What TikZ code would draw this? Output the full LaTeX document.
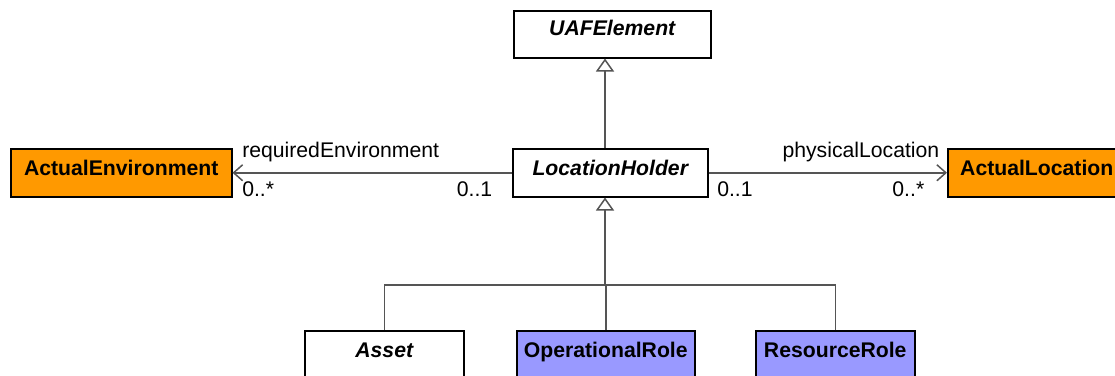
\documentclass[tikz,border=0pt]{standalone}
\usepackage{fontspec}
\setmainfont{Liberation Sans}
\usetikzlibrary{arrows.meta}

\definecolor{orangebox}{HTML}{FF9900}
\definecolor{purplebox}{HTML}{9999FF}
\definecolor{linegray}{HTML}{555555}

\begin{document}
\begin{tikzpicture}[x=1pt, y=-1pt,
    every node/.style={font=\fontsize{21.2}{26}\selectfont},
    class/.style={draw=black, line width=1.5pt, fill=white, anchor=north west,
        inner xsep=0pt, inner ysep=0pt, text height=27pt, text depth=21pt,
        font=\fontsize{21.2}{26}\selectfont\bfseries},
    abstract/.style={class, font=\fontsize{21.2}{26}\selectfont\bfseries\itshape},
    actual/.style={class, fill=orangebox},
    role/.style={class, fill=purplebox},
    gen/.style={draw=linegray, line width=1.5pt, -{Triangle[open, length=13pt, width=18pt, fill=white]}},
    assoc/.style={draw=linegray, line width=1.5pt, -{Straight Barb[length=9pt, width=16pt]}},
    lbl/.style={inner sep=0pt}]
    \useasboundingbox (0,0) rectangle (1115,375);
    \clip (0,0) rectangle (1115,375);
    \node[abstract, minimum width=197pt, text height=25pt, text depth=22pt] (uaf) at (513,10) {UAFElement};
    \node[abstract, minimum width=195pt] (loc) at (512,148) {LocationHolder};
    \node[actual, minimum width=221pt] (env) at (10,148) {ActualEnvironment};
    \node[actual, minimum width=178pt] (aloc) at (947,148) {ActualLocation};
    \node[abstract, minimum width=159pt] (asset) at (304,330) {Asset};
    \node[role, minimum width=178pt] (opr) at (516,330) {OperationalRole};
    \node[role, minimum width=159pt] (res) at (755,330) {ResourceRole};
    \coordinate (bus) at (605,285);
    \draw[gen] (loc.north -| bus) -- (uaf.south -| bus);
    \draw[gen] (bus) -- (loc.south -| bus);
    \foreach \n in {asset,opr,res}
        \draw[draw=linegray, line width=1.5pt] (\n.north) |- (bus);
    \draw[assoc] (loc.west) -- (env.east)
        node[pos=1, lbl, anchor=base west, xshift=9pt, yshift=15pt] {requiredEnvironment}
        node[pos=1, lbl, anchor=base west, xshift=9pt, yshift=-24pt] {0..*}
        node[pos=0, lbl, anchor=base east, xshift=-19pt, yshift=-24pt] {0..1};
    \draw[assoc] (loc.east) -- (aloc.west)
        node[pos=1, lbl, anchor=base east, xshift=-7pt, yshift=15pt] {physicalLocation}
        node[pos=1, lbl, anchor=base east, xshift=-22pt, yshift=-24pt] {0..*}
        node[pos=0, lbl, anchor=base west, xshift=8pt, yshift=-24pt] {0..1};
\end{tikzpicture}
\end{document}
